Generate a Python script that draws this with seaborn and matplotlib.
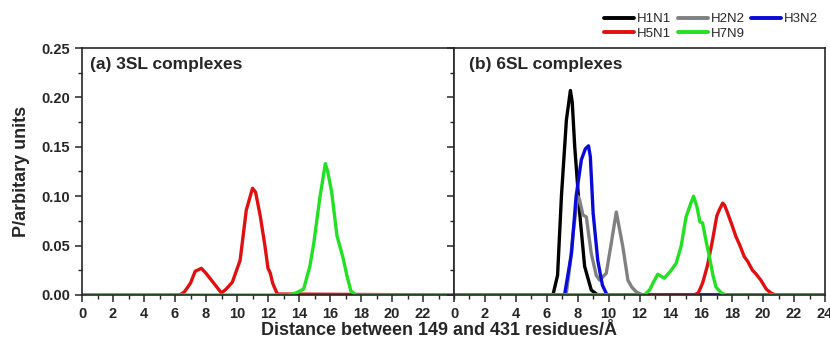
import numpy as np
import pandas as pd
import matplotlib
matplotlib.use('Agg')
import matplotlib.pyplot as plt
import seaborn as sns
from matplotlib.ticker import MultipleLocator

# ---- data ----
strains = ['H1N1', 'H2N2', 'H3N2', 'H5N1', 'H7N9']
colors = {'H1N1': '#000000', 'H2N2': '#808080', 'H3N2': '#0a0ad8',
          'H5N1': '#e01010', 'H7N9': '#22e022'}

# (a) 3SL complexes
h5n1_3sl_x = [0, 6.3, 6.6, 7.0, 7.3, 7.7, 8.0, 8.5, 9.0, 9.3, 9.7, 10.2, 10.6, 11.0,
              11.2, 11.5, 11.8, 12.0, 12.15, 12.3, 12.6, 24]
h5n1_3sl_y = [0, 0, 0.003, 0.012, 0.024, 0.027, 0.022, 0.012, 0.002, 0.006, 0.013,
              0.035, 0.086, 0.108, 0.104, 0.080, 0.050, 0.027, 0.022, 0.012, 0.001, 0]
h7n9_3sl_x = [0, 13.3, 13.8, 14.3, 14.7, 14.95, 15.35, 15.7, 15.85, 16.1, 16.45,
              16.85, 17.1, 17.35, 17.7, 24]
h7n9_3sl_y = [0, 0, 0.002, 0.006, 0.029, 0.052, 0.099, 0.133, 0.125, 0.105, 0.060,
              0.037, 0.019, 0.004, 0, 0]

# (b) 6SL complexes
h1n1_6sl_x = [0, 6.4, 6.7, 6.95, 7.27, 7.53, 7.65, 7.81, 8.13, 8.45, 8.88, 9.3, 24]
h1n1_6sl_y = [0, 0, 0.02, 0.10, 0.177, 0.207, 0.195, 0.150, 0.083, 0.029, 0.005, 0, 0]
h2n2_6sl_x = [0, 7.25, 7.5, 7.7, 8.0, 8.13, 8.34, 8.56, 8.88, 9.2, 9.42, 9.85, 10.2,
              10.5, 10.92, 11.25, 11.5, 11.8, 12.2, 24]
h2n2_6sl_y = [0, 0, 0.03, 0.062, 0.100, 0.096, 0.081, 0.079, 0.042, 0.020, 0.015,
              0.022, 0.055, 0.084, 0.049, 0.015, 0.008, 0.003, 0, 0]
h3n2_6sl_x = [0, 7.15, 7.6, 7.9, 8.24, 8.5, 8.7, 8.82, 9.0, 9.3, 9.6, 9.9, 24]
h3n2_6sl_y = [0, 0, 0.042, 0.100, 0.137, 0.148, 0.151, 0.140, 0.083, 0.035, 0.010, 0, 0]
h5n1_6sl_x = [0, 15.5, 15.8, 16.08, 16.4, 16.73, 17.0, 17.16, 17.38, 17.5, 17.7, 18.0,
              18.24, 18.5, 18.77, 19.0, 19.31, 19.5, 19.85, 20.2, 20.5, 20.8, 24]
h5n1_6sl_y = [0, 0, 0.002, 0.012, 0.030, 0.056, 0.080, 0.086, 0.093, 0.091, 0.083,
              0.070, 0.059, 0.050, 0.039, 0.034, 0.025, 0.022, 0.015, 0.006, 0.002, 0, 0]
h7n9_6sl_x = [0, 12.3, 12.65, 12.9, 13.18, 13.4, 13.6, 14.0, 14.37, 14.7, 15.01, 15.3,
              15.5, 15.72, 15.91, 16.08, 16.3, 16.52, 16.75, 16.95, 17.3, 17.6, 24]
h7n9_6sl_y = [0, 0, 0.005, 0.013, 0.021, 0.019, 0.017, 0.024, 0.032, 0.050, 0.079,
              0.092, 0.100, 0.089, 0.074, 0.073, 0.055, 0.039, 0.020, 0.008, 0.002, 0, 0]


def to_long(series):
    frames = []
    for name, xs, ys in series:
        frames.append(pd.DataFrame({'dist': xs, 'P': ys, 'strain': name}))
    return pd.concat(frames, ignore_index=True)


df_3sl = to_long([('H5N1', h5n1_3sl_x, h5n1_3sl_y),
                  ('H7N9', h7n9_3sl_x, h7n9_3sl_y)])
df_6sl = to_long([('H1N1', h1n1_6sl_x, h1n1_6sl_y),
                  ('H2N2', h2n2_6sl_x, h2n2_6sl_y),
                  ('H3N2', h3n2_6sl_x, h3n2_6sl_y),
                  ('H5N1', h5n1_6sl_x, h5n1_6sl_y),
                  ('H7N9', h7n9_6sl_x, h7n9_6sl_y)])

sns.set_style('ticks')
plt.rcParams['font.family'] = ['Liberation Sans', 'DejaVu Sans']
plt.rcParams['font.weight'] = 'bold'

fig = plt.figure(figsize=(8.3, 3.45), dpi=100)
ax1 = fig.add_axes([82 / 830, 50 / 345, 372 / 830, 247 / 345])
ax2 = fig.add_axes([454 / 830, 50 / 345, 371 / 830, 247 / 345])

line_kw = dict(estimator=None, sort=False, lw=2.4, legend=False,
               solid_joinstyle='round')
sns.lineplot(data=df_3sl, x='dist', y='P', hue='strain', hue_order=['H5N1', 'H7N9'],
             palette=colors, ax=ax1, **line_kw)
sns.lineplot(data=df_6sl, x='dist', y='P', hue='strain', hue_order=strains,
             palette=colors, ax=ax2, **line_kw)

for ax in (ax1, ax2):
    ax.set_xlim(0, 24)
    ax.set_ylim(0, 0.25)
    ax.xaxis.set_major_locator(MultipleLocator(2))
    ax.xaxis.set_minor_locator(MultipleLocator(1))
    ax.yaxis.set_major_locator(MultipleLocator(0.05))
    ax.yaxis.set_minor_locator(MultipleLocator(0.025))
    ax.tick_params(which='major', direction='out', length=5, width=1.1, labelsize=10.5)
    ax.tick_params(which='minor', direction='out', length=3, width=1.0)
    for sp in ax.spines.values():
        sp.set_visible(True)
        sp.set_linewidth(1.2)
    ax.set_xlabel('')
    ax.set_ylabel('')

ax1.set_xticks(np.arange(0, 24, 2))
ax1.set_yticks(np.arange(0, 0.2501, 0.05))
ax1.set_yticklabels([f'{v:.2f}' for v in np.arange(0, 0.2501, 0.05)])
ax2.set_xticks(np.arange(0, 25, 2))
ax2.tick_params(axis='y', labelleft=False)

ax1.set_ylabel('P/arbitary units', fontsize=13, fontweight='bold', labelpad=8)
ax1.text(0.022, 0.965, '(a) 3SL complexes', transform=ax1.transAxes, va='top',
         ha='left', fontsize=12.5, fontweight='bold')
ax2.text(0.04, 0.965, '(b) 6SL complexes', transform=ax2.transAxes, va='top',
         ha='left', fontsize=12.5, fontweight='bold')
fig.text(439 / 830, 0.042, 'Distance between 149 and 431 residues/Å', ha='center',
         va='center', fontsize=13, fontweight='bold')

# legend above panel (b), filled row by row
handles = {s: plt.Line2D([], [], color=colors[s], lw=2.8) for s in strains}
order = ['H1N1', 'H5N1', 'H2N2', 'H7N9', 'H3N2']
fig.legend([handles[s] for s in order], order, loc='upper right',
           bbox_to_anchor=(826 / 830, 0.985), ncol=3, frameon=False,
           prop={'size': 9.5, 'weight': 'normal'}, handlelength=2.3,
           handletextpad=0.2, columnspacing=0.5, labelspacing=0.15, borderaxespad=0.2)

fig.savefig('out.png', dpi=100)
